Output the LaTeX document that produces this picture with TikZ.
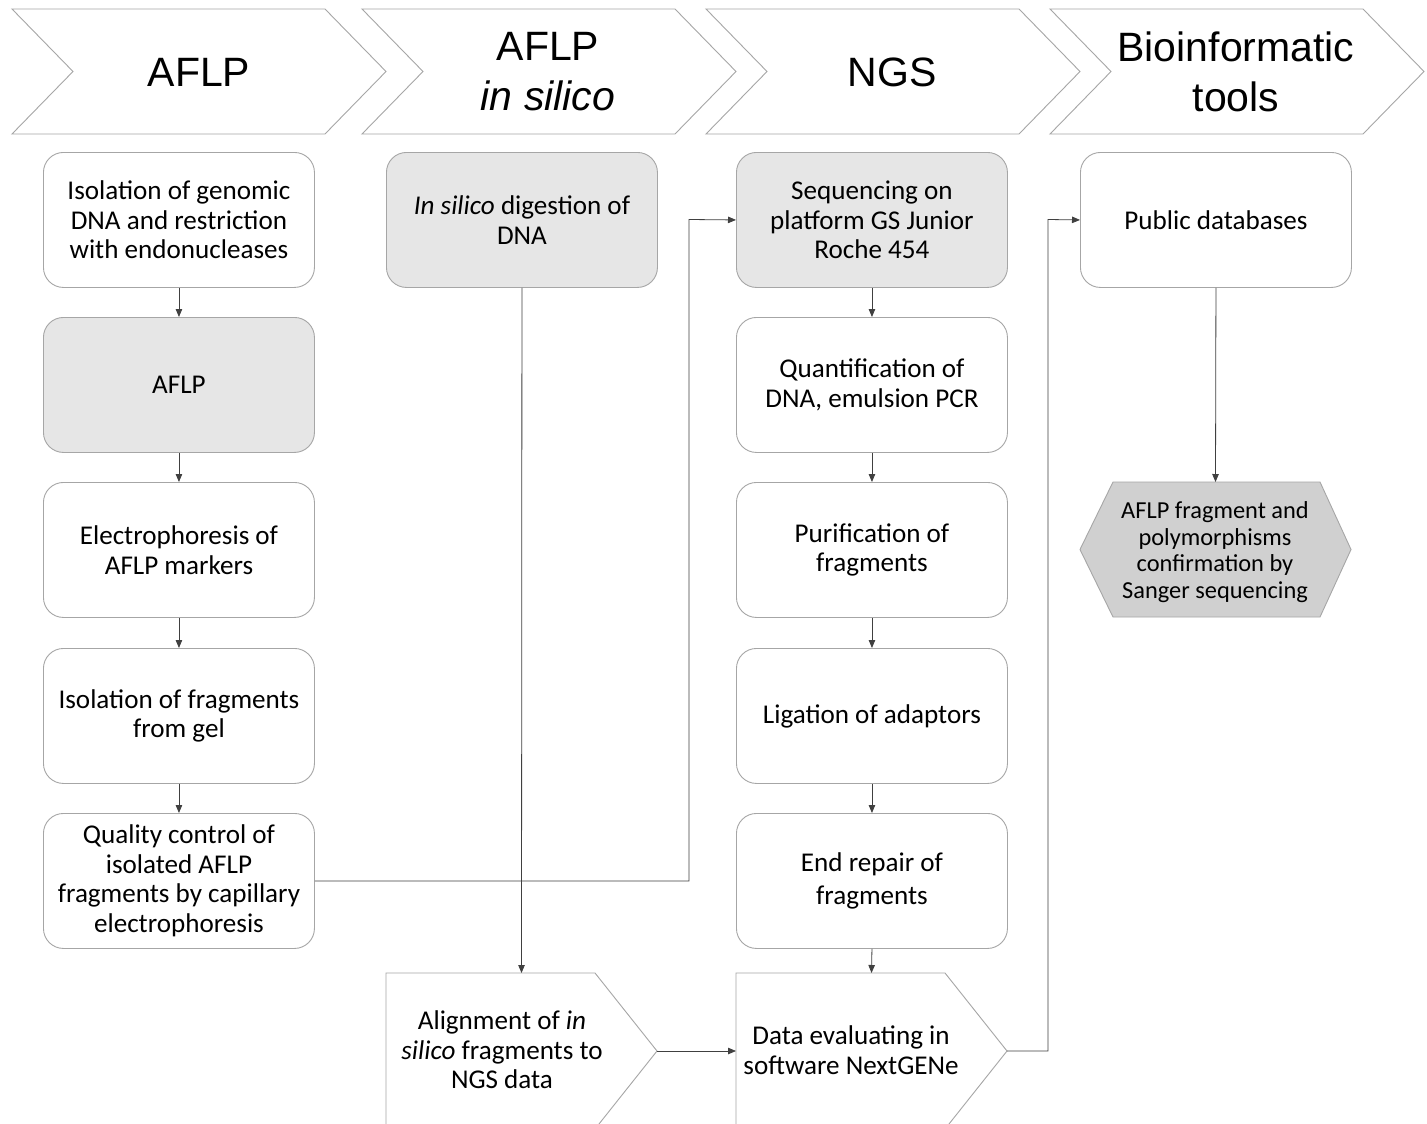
\documentclass[tikz,border=0pt]{standalone}
\usepackage{fontspec}
\setmainfont{Carlito}
\newfontfamily\hdfont{Liberation Sans}
\usetikzlibrary{arrows.meta}
\definecolor{boxline}{HTML}{A6A6A6}
\definecolor{boxgray}{HTML}{E6E6E6}
\definecolor{hexgray}{HTML}{D0D0D0}
\definecolor{connc}{HTML}{404040}
\begin{document}
\begin{tikzpicture}[x=1pt,y=-1pt,
  box/.style={draw=boxline, line width=0.9pt, fill=white, rounded corners=20pt,
    minimum width=271pt, minimum height=135pt, anchor=north west, inner sep=0pt,
    align=center, font=\fontsize{27.1}{29.5}\selectfont},
  graybox/.style={box, fill=boxgray},
  shapeline/.style={draw=boxline, line width=0.9pt},
  hdtext/.style={align=center, inner sep=0pt, font=\hdfont\fontsize{41}{50}\selectfont},
  bodytext/.style={align=center, inner sep=0pt, font=\fontsize{27.1}{29.5}\selectfont},
  conn/.style={draw=connc, line width=0.8pt, -{Triangle[length=8pt,width=6.5pt]}},
]
\useasboundingbox (0,0) rectangle (1427,1124);
\clip (0,0) rectangle (1427,1124);
\fill[white] (0,0) rectangle (1427,1124);

% header chevrons
\foreach \x in {12,362,706,1050}{
  \draw[shapeline, fill=white] (\x,9) -- (\x+313,9) -- (\x+374,71.5) -- (\x+313,134) -- (\x,134) -- (\x+61,71.5) -- cycle;
}
\node[hdtext] (h1) at (199,72) {AFLP};
\node[hdtext] (h2) at (548,72) {AFLP\\\itshape in silico};
\node[hdtext] (h3) at (892,72) {NGS};
\node[hdtext] (h4) at (1236,72) {Bioinformatic\\tools};

% column 1
\node[box] (a1) at (43,152) {Isolation of genomic\\DNA and restriction\\with endonucleases};
\node[graybox] (a2) at (43,317) {AFLP};
\node[box] (a3) at (43,482) {Electrophoresis of\\AFLP markers};
\node[box] (a4) at (43,648) {Isolation of fragments\\from gel};
\node[box] (a5) at (43,813) {Quality control of\\isolated AFLP\\fragments by capillary\\electrophoresis};

% column 2
\node[graybox] (s1) at (386,152) {\textit{In silico} digestion of\\DNA};
\draw[shapeline, fill=white] (386,973) -- (595,973) -- (657,1051) -- (595,1129) -- (386,1129) -- cycle;
\node[bodytext] (s2) at (502,1050) {Alignment of \textit{in}\\\textit{silico} fragments to\\NGS data};
\coordinate (s2top) at (521.5,973);
\coordinate (s2tip) at (657,1051);

% column 3
\node[graybox] (n1) at (736,152) {Sequencing on\\platform GS Junior\\Roche 454};
\node[box] (n2) at (736,317) {Quantification of\\DNA, emulsion PCR};
\node[box] (n3) at (736,482) {Purification of\\fragments};
\node[box] (n4) at (736,648) {Ligation of adaptors};
\node[box] (n5) at (736,813) {End repair of\\[3pt]fragments};
\draw[shapeline, fill=white] (736,973) -- (945,973) -- (1007,1051) -- (945,1129) -- (736,1129) -- cycle;
\node[bodytext] (n6) at (851,1050) {Data evaluating in\\software NextGENe};
\coordinate (n6top) at (871.5,973);
\coordinate (n6left) at (736,1051);
\coordinate (n6tip) at (1007,1051);

% column 4
\node[box] (b1) at (1080,152) {Public databases};
\draw[draw=boxline, line width=0.9pt, fill=hexgray] (1080,549.5) -- (1113,482) -- (1320,482) -- (1351,549.5) -- (1320,617) -- (1113,617) -- cycle;
\node[align=center, inner sep=0pt, font=\fontsize{24.4}{26.7}\selectfont] (b2) at (1215,552) {AFLP fragment and\\polymorphisms\\confirmation by\\Sanger sequencing};
\coordinate (b2top) at (1215.5,482);

% connectors
\draw[conn] (a1.south) -- (a2.north);
\draw[conn] (a2.south) -- (a3.north);
\draw[conn] (a3.south) -- (a4.north);
\draw[conn] (a4.south) -- (a5.north);
\coordinate (j1) at (689,219.5);
\draw[conn] (a5.east) -| (j1) -- (n1.west);
\draw[conn] (s1.south) -- (s2top);
\draw[conn] (s2tip) -- (n6left);
\draw[conn] (n1.south) -- (n2.north);
\draw[conn] (n2.south) -- (n3.north);
\draw[conn] (n3.south) -- (n4.north);
\draw[conn] (n4.south) -- (n5.north);
\draw[conn] (n5.south) -- (n6top);
\coordinate (j2) at (1048,219.5);
\draw[conn] (n6tip) -| (j2) -- (b1.west);
\draw[conn] (b1.south) -- (b2top);
\end{tikzpicture}
\end{document}
